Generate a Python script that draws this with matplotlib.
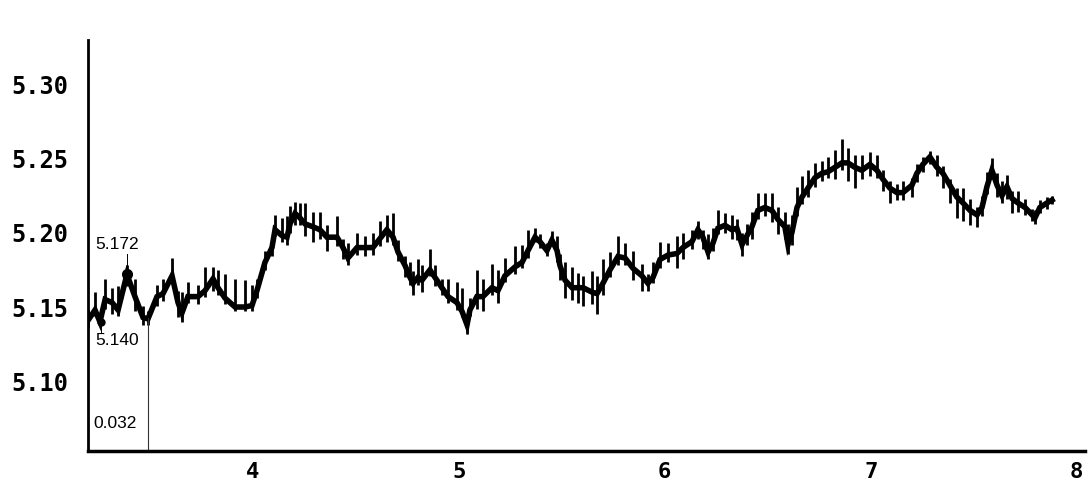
import matplotlib
matplotlib.use("Agg")
import matplotlib.pyplot as plt
import numpy as np

# price trace (x in time units, y in price)
xs = [
    3.200, 3.234, 3.258, 3.283, 3.317, 3.346, 3.389, 3.428, 3.467, 3.491,
    3.535, 3.564, 3.608, 3.637, 3.656, 3.685, 3.734, 3.768, 3.807, 3.831,
    3.865, 3.914, 3.962, 3.996, 4.020, 4.059, 4.093, 4.108, 4.142, 4.166,
    4.181, 4.205, 4.229, 4.253, 4.292, 4.326, 4.360, 4.409, 4.438, 4.462,
    4.506, 4.545, 4.583, 4.617, 4.651, 4.681, 4.705, 4.739, 4.763, 4.778,
    4.802, 4.821, 4.860, 4.884, 4.918, 4.948, 4.991, 5.016, 5.040, 5.054,
    5.088, 5.117, 5.161, 5.190, 5.224, 5.273, 5.307, 5.336, 5.370, 5.394,
    5.428, 5.452, 5.477, 5.491, 5.516, 5.550, 5.579, 5.603, 5.647, 5.671,
    5.700, 5.734, 5.773, 5.807, 5.846, 5.889, 5.918, 5.943, 5.977, 6.016,
    6.059, 6.088, 6.132, 6.161, 6.185, 6.210, 6.234, 6.258, 6.292, 6.326,
    6.350, 6.375, 6.399, 6.423, 6.452, 6.486, 6.520, 6.549, 6.583, 6.598,
    6.617, 6.642, 6.666, 6.695, 6.729, 6.763, 6.792, 6.826, 6.860, 6.889,
    6.923, 6.957, 6.996, 7.030, 7.059, 7.093, 7.127, 7.156, 7.200, 7.224,
    7.253, 7.287, 7.321, 7.350, 7.384, 7.418, 7.448, 7.482, 7.516, 7.540,
    7.564, 7.588, 7.613, 7.637, 7.661, 7.686, 7.715, 7.749, 7.783, 7.797,
    7.821, 7.855, 7.880,
]
prices = [
    5.141, 5.148, 5.140, 5.155, 5.153, 5.148, 5.172, 5.157, 5.143, 5.142,
    5.157, 5.159, 5.171, 5.153, 5.146, 5.157, 5.157, 5.161, 5.169, 5.163,
    5.156, 5.150, 5.150, 5.151, 5.161, 5.180, 5.190, 5.202, 5.198, 5.197,
    5.206, 5.213, 5.210, 5.206, 5.204, 5.202, 5.197, 5.197, 5.190, 5.183,
    5.190, 5.190, 5.190, 5.196, 5.202, 5.197, 5.187, 5.178, 5.170, 5.166,
    5.170, 5.168, 5.175, 5.170, 5.163, 5.157, 5.153, 5.147, 5.138, 5.148,
    5.157, 5.157, 5.163, 5.161, 5.171, 5.177, 5.180, 5.188, 5.197, 5.194,
    5.188, 5.195, 5.188, 5.178, 5.168, 5.163, 5.163, 5.163, 5.160, 5.159,
    5.166, 5.175, 5.184, 5.183, 5.176, 5.171, 5.166, 5.170, 5.182, 5.185,
    5.186, 5.190, 5.194, 5.202, 5.197, 5.187, 5.193, 5.203, 5.205, 5.202,
    5.203, 5.192, 5.198, 5.204, 5.215, 5.217, 5.215, 5.209, 5.204, 5.192,
    5.200, 5.217, 5.224, 5.230, 5.237, 5.240, 5.241, 5.244, 5.247, 5.247,
    5.244, 5.242, 5.246, 5.242, 5.236, 5.230, 5.227, 5.227, 5.232, 5.240,
    5.246, 5.251, 5.244, 5.240, 5.232, 5.224, 5.220, 5.215, 5.212, 5.217,
    5.231, 5.242, 5.232, 5.225, 5.231, 5.223, 5.220, 5.217, 5.212, 5.210,
    5.217, 5.220, 5.222,
]
# tick spikes above / below the trace, in thousandths
spike_up = [
    8, 12, 6, 14, 10, 16, 6, 12, 8, 5,
    8, 10, 12, 8, 14, 10, 8, 16, 8, 12,
    16, 19, 18, 14, 8, 8, 6, 10, 12, 14,
    12, 8, 10, 14, 10, 12, 8, 14, 6, 10,
    10, 8, 10, 12, 10, 16, 8, 6, 10, 8,
    12, 10, 14, 8, 6, 12, 14, 16, 6, 8,
    18, 12, 16, 14, 12, 14, 12, 14, 6, 5,
    5, 6, 10, 8, 12, 14, 10, 8, 14, 12,
    16, 12, 14, 10, 12, 8, 6, 10, 12, 8,
    12, 10, 8, 6, 5, 12, 10, 12, 8, 10,
    6, 8, 8, 10, 12, 10, 12, 8, 10, 14,
    12, 14, 14, 12, 10, 8, 10, 12, 16, 10,
    8, 10, 8, 10, 6, 5, 6, 8, 5, 6,
    5, 4, 8, 5, 4, 6, 10, 8, 5, 8,
    10, 8, 8, 10, 8, 5, 8, 6, 4, 5,
    5, 4, 3,
]
spike_dn = [
    5, 4, 3, 6, 8, 4, 8, 10, 5, 4,
    6, 5, 4, 10, 6, 4, 5, 4, 8, 5,
    4, 3, 3, 4, 5, 5, 6, 4, 4, 5,
    6, 8, 5, 8, 10, 6, 9, 6, 8, 5,
    5, 6, 5, 5, 8, 5, 6, 8, 5, 8,
    5, 8, 4, 6, 5, 4, 5, 4, 6, 4,
    8, 10, 5, 8, 4, 5, 4, 5, 3, 4,
    4, 4, 8, 10, 12, 8, 10, 12, 8, 14,
    8, 5, 6, 5, 8, 10, 5, 4, 6, 5,
    10, 8, 5, 6, 8, 5, 5, 4, 5, 6,
    8, 8, 6, 8, 6, 6, 8, 10, 8, 6,
    8, 6, 5, 6, 6, 5, 4, 8, 5, 12,
    14, 6, 8, 5, 8, 10, 5, 5, 8, 6,
    5, 5, 6, 10, 12, 14, 12, 10, 8, 6,
    5, 6, 8, 5, 8, 10, 6, 5, 4, 4,
    4, 4, 3,
]

# marked swing high / low and the range between them
swing_hi_x, swing_hi = 3.389, 5.172
swing_lo_x, swing_lo = 3.263, 5.140
cursor_x = 3.491

x_ticks = [4, 5, 6, 7, 8]
y_ticks = [5.10, 5.15, 5.20, 5.25, 5.30]

fig = plt.figure(figsize=(10.88, 4.84), dpi=100)
ax = fig.add_axes([88 / 1088, 33 / 484, 997 / 1088, 411 / 484])

x = np.asarray(xs)
y = np.asarray(prices)
up = np.asarray(spike_up) / 1000.0
dn = np.asarray(spike_dn) / 1000.0

ax.vlines(x, y - dn, y + up, color="black", linewidth=2.0)
ax.plot(x, y, color="black", linewidth=4.0, solid_joinstyle="miter")

# annotations
ax.plot([swing_hi_x], [swing_hi], "o", color="black", markersize=7)
ax.plot([swing_lo_x], [swing_lo], "o", color="black", markersize=5)
ax.plot([swing_hi_x, swing_hi_x], [5.1776, 5.186], color="black", linewidth=0.7)
ax.plot([swing_lo_x, swing_lo_x], [5.1325, 5.137], color="black", linewidth=0.7)
ax.plot([cursor_x, cursor_x], [5.1426, 5.0531], color="#333333", linewidth=0.8)

note_font = dict(family="Liberation Sans", fontsize=12.5, color="black", va="center", ha="left")
ax.text(3.234, 5.1924, f"{swing_hi:.3f}", **note_font)
ax.text(3.234, 5.1278, f"{swing_lo:.3f}", **note_font)
ax.text(3.224, 5.0713, f"{swing_hi - swing_lo:.3f}", **note_font)

ax.set_xlim(3.2, 8.04)
ax.set_ylim(5.0531, 5.3297)
ax.set_xticks(x_ticks)
ax.set_xticklabels([str(t) for t in x_ticks])
ax.set_yticks(y_ticks)
ax.set_yticklabels([f"{t:.2f}" for t in y_ticks])

for label in ax.get_yticklabels():
    label.set_fontfamily("DejaVu Sans Mono")
    label.set_fontsize(17)
    label.set_fontweight("bold")
for label in ax.get_xticklabels():
    label.set_fontfamily("DejaVu Sans Mono")
    label.set_fontsize(16)
    label.set_fontweight("bold")

ax.tick_params(axis="both", length=0)
ax.tick_params(axis="y", pad=14)
ax.tick_params(axis="x", pad=8)
for side in ("top", "right"):
    ax.spines[side].set_visible(False)
ax.spines["left"].set_linewidth(2)
ax.spines["bottom"].set_linewidth(2.5)

fig.savefig("out.png", dpi=100)
